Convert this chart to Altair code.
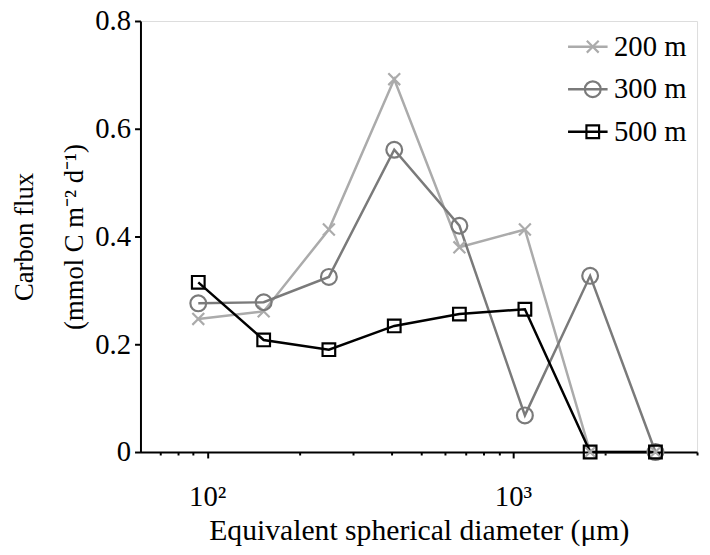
import altair as alt
import pandas as pd

# ---- data ----
diameter = [93.5, 153, 250, 409, 668, 1094, 1788, 2924]
flux_200 = [0.247, 0.261, 0.413, 0.692, 0.380, 0.413, 0.0, 0.0]
flux_300 = [0.276, 0.278, 0.325, 0.561, 0.420, 0.068, 0.327, 0.0]
flux_500 = [0.315, 0.208, 0.190, 0.234, 0.256, 0.265, 0.0, 0.0]
series = ["200 m", "300 m", "500 m"]
colors = ["#ababab", "#7a7a7a", "#000000"]
x_major = [100, 1000]
x_minor = [70, 80, 90, 200, 300, 400, 500, 600, 700, 800, 900, 2000, 3000, 4000]
y_ticks = [0, 0.2, 0.4, 0.6, 0.8]

rows = []
for name, vals in zip(series, [flux_200, flux_300, flux_500]):
    for d, f in zip(diameter, vals):
        rows.append({"d": d, "f": f, "s": name, "line": name})
df = pd.DataFrame(rows)

FONT = "Liberation Serif"

# marker shapes (x, circle, square) as unit paths
shape_paths = [
    "M-0.75,-0.75L0.75,0.75M-0.75,0.75L0.75,-0.75",
    "M1,0A1,1 0 1,1 -1,0A1,1 0 1,1 1,0Z",
    "M-0.8,-0.8H0.8V0.8H-0.8Z",
]

x_axis = alt.Axis(
    values=x_major + x_minor,
    labelExpr="datum.value == 100 ? '10²' : datum.value == 1000 ? '10³' : ''",
    tickSize={"condition": {"test": "datum.value == 100 || datum.value == 1000", "value": 6}, "value": 3},
    labelOverlap=False,
    labelFont=FONT, labelFontSize=29, labelColor="black",
    labelBaseline="alphabetic", labelPadding=48,
    title="Equivalent spherical diameter (μm)",
    titleFont=FONT, titleFontSize=30, titleFontWeight="normal", titleColor="black",
    titleBaseline="alphabetic", titleY=88,
    domainColor="black", domainWidth=2, tickColor="black", tickWidth=2,
    grid=False,
)

y_axis = alt.Axis(
    values=y_ticks,
    labelExpr="datum.value == 0 ? '0' : format(datum.value, '.1f')",
    tickSize=6, labelPadding=4,
    labelFont=FONT, labelFontSize=29, labelColor="black",
    title=["Carbon flux", "(mmol C m⁻² d⁻¹)"],
    titleFont=FONT, titleFontSize=27, titleFontWeight="normal", titleColor="black",
    titleBaseline="alphabetic", titleX=-109, titleLineHeight=50,
    domainColor="black", domainWidth=2, tickColor="black", tickWidth=2,
    grid=False,
)

x_enc = alt.X("d:Q", scale=alt.Scale(type="log", domain=[60.5, 4000], nice=False), axis=x_axis)
y_enc = alt.Y("f:Q", scale=alt.Scale(domain=[0, 0.8], nice=False), axis=y_axis)

line_legend = alt.Legend(
    title=None, orient="none", legendX=431, legendY=6,
    symbolType="M-1,0H1", symbolSize=1600, symbolStrokeWidth=2.5,
    labelFont=FONT, labelFontSize=29, labelColor="black", labelOffset=5,
    clipHeight=40, rowPadding=3, padding=0,
)
marker_legend = alt.Legend(
    title=None, orient="none", legendX=431, legendY=6,
    symbolSize=256, symbolStrokeWidth=2.2, symbolOffset=12,
    labelFont=FONT, labelFontSize=29, labelExpr="''", labelOffset=4,
    clipHeight=40, rowPadding=3, padding=0,
)

lines = alt.Chart(df).mark_line(strokeWidth=2.5).encode(
    x=x_enc, y=y_enc,
    stroke=alt.Stroke("line:N", scale=alt.Scale(range=colors), legend=line_legend),
)

points = alt.Chart(df).mark_point(filled=False, size=256, strokeWidth=2.2, opacity=1).encode(
    x=x_enc, y=y_enc,
    color=alt.Color("s:N", scale=alt.Scale(domain=series, range=colors), legend=marker_legend),
    shape=alt.Shape("s:N", scale=alt.Scale(domain=series, range=shape_paths), legend=marker_legend),
)

chart = alt.layer(lines, points).properties(
    width=563, height=436,
    autosize=alt.AutoSizeParams(type="none"),
    padding={"left": 134, "top": 10, "right": 5, "bottom": 100},
).configure_view(stroke=None).configure(background="white")

chart.save("out.html", embed_options={"renderer": "svg", "actions": False})
